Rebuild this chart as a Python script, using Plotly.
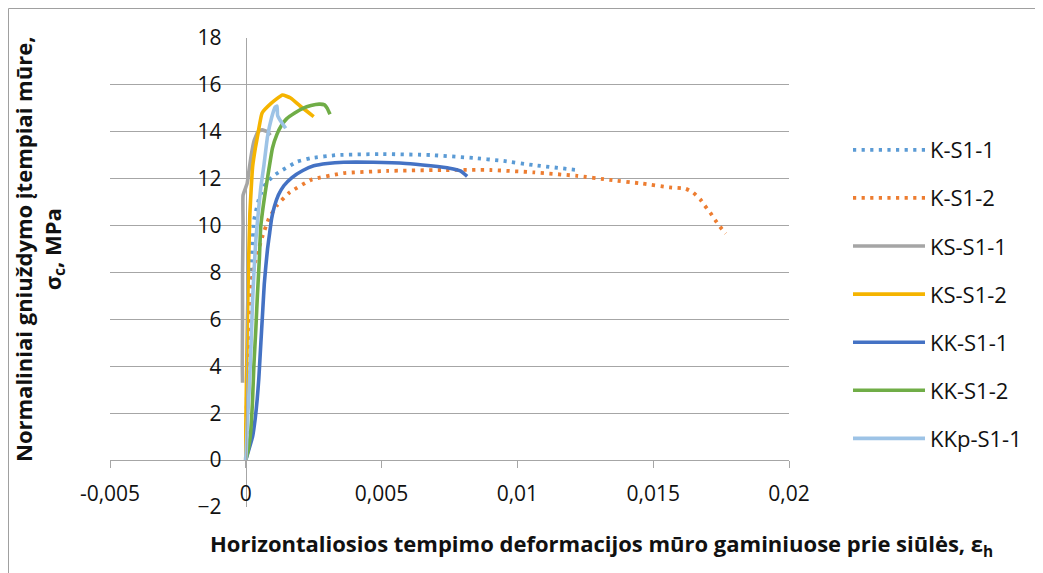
import plotly.graph_objects as go

# ---------------- data ----------------
names = ["K-S1-1", "K-S1-2", "KS-S1-1", "KS-S1-2", "KK-S1-1", "KK-S1-2", "KKp-S1-1"]
colors = ["#5B9BD5", "#ED7D31", "#A5A5A5", "#F5B400", "#4472C4", "#70AD47", "#9DC3E6"]
dashes = ["dot", "dot", "solid", "solid", "solid", "solid", "solid"]

k_s1_1_x = [0, 0.00005, 0.0001, 0.00015, 0.0002, 0.0003, 0.0005, 0.00074, 0.00105, 0.00135,
            0.0019, 0.0024, 0.00337, 0.00496, 0.0068, 0.0084, 0.0094, 0.0106, 0.0122]
k_s1_1_y = [0, 2.0, 4.0, 6.0, 8.0, 10.2, 11.2, 11.8, 12.15, 12.37,
            12.73, 12.88, 13.01, 13.05, 13.01, 12.88, 12.77, 12.58, 12.37]

k_s1_2_x = [0, 0.00003, 0.00006, 0.00012, 0.00018, 0.0003, 0.0006, 0.00085, 0.00116, 0.0016,
            0.0024, 0.0036, 0.0052, 0.0072, 0.009, 0.0106, 0.0122, 0.0134, 0.0146, 0.0156,
            0.0162, 0.01648, 0.01673, 0.0169, 0.0171, 0.01728, 0.01746, 0.01767]
k_s1_2_y = [0, 2.0, 4.4, 5.8, 7.0, 8.25, 9.5, 10.3, 10.88, 11.4,
            11.95, 12.24, 12.33, 12.37, 12.37, 12.27, 12.12, 11.95, 11.79, 11.63,
            11.57, 11.4, 11.12, 10.85, 10.55, 10.24, 9.95, 9.66]

ks_s1_1_x = [-0.00012, -0.00013, -0.00012, -0.00012, -0.0001, -0.0001, 0.00005, 0.0001,
             0.0002, 0.0003, 0.00045, 0.0006, 0.0008, 0.0009]
ks_s1_1_y = [3.3, 4.0, 6.0, 8.0, 10.0, 11.3, 11.8, 12.2,
             13.0, 13.6, 14.0, 14.08, 14.0, 13.85]

ks_s1_2_x = [0, 0, 0.00003, 0.00006, 0.0001, 0.00015, 0.0002, 0.00025, 0.00035, 0.00043,
             0.0006, 0.00092, 0.00135, 0.00165, 0.002, 0.0025]
ks_s1_2_y = [0, 1.4, 3.8, 6.0, 8.3, 10.5, 11.6, 12.5, 13.3, 13.8,
             14.8, 15.2, 15.57, 15.44, 15.1, 14.65]

kk_s1_1_x = [0, 0.0001, 0.00025, 0.00035, 0.00042, 0.00048, 0.00053, 0.00058, 0.00063, 0.00068,
             0.00074, 0.0008, 0.00088, 0.00095, 0.00105, 0.0012, 0.0014, 0.0017, 0.0021, 0.0025,
             0.003, 0.0036, 0.0047, 0.0059, 0.0068, 0.0075, 0.0079, 0.00815]
kk_s1_1_y = [0, 0.4, 1.0, 1.8, 2.6, 3.5, 4.5, 5.5, 6.5, 7.5,
             8.3, 9.0, 9.7, 10.3, 10.8, 11.3, 11.7, 12.05, 12.35, 12.55,
             12.65, 12.7, 12.7, 12.65, 12.55, 12.45, 12.33, 12.1]

kk_s1_2_x = [0, 0.0001, 0.00018, 0.00025, 0.0003, 0.00037, 0.00043, 0.0005, 0.00055, 0.00065,
             0.00074, 0.00085, 0.00098, 0.00115, 0.0013, 0.0015, 0.0018, 0.0021, 0.0024, 0.0027,
             0.0029, 0.003, 0.0031]
kk_s1_2_y = [0, 0.5, 1.2, 2.6, 4.1, 5.6, 7.1, 8.6, 9.95, 10.9,
             11.6, 12.4, 13.3, 13.9, 14.25, 14.55, 14.8, 15.0, 15.12, 15.18,
             15.15, 15.0, 14.75]

kkp_s1_1_x = [0, 0.00003, 0.00006, 0.00012, 0.00018, 0.00025, 0.0003, 0.00037, 0.00048, 0.00055,
              0.00067, 0.0008, 0.00095, 0.00108, 0.00115, 0.00117, 0.0013, 0.00147]
kkp_s1_1_y = [0, 0.8, 1.7, 2.9, 4.5, 6.8, 8.0, 9.4, 10.8, 11.6,
              12.6, 13.8, 14.6, 15.05, 15.1, 14.7, 14.43, 14.15]

series_x = [k_s1_1_x, k_s1_2_x, ks_s1_1_x, ks_s1_2_x, kk_s1_1_x, kk_s1_2_x, kkp_s1_1_x]
series_y = [k_s1_1_y, k_s1_2_y, ks_s1_1_y, ks_s1_2_y, kk_s1_1_y, kk_s1_2_y, kkp_s1_1_y]

x_tickvals = [-0.005, 0, 0.005, 0.01, 0.015, 0.02]
x_ticktext = ["-0,005", "0", "0,005", "0,01", "0,015", "0,02"]
y_tickvals = [-2, 0, 2, 4, 6, 8, 10, 12, 14, 16, 18]

x_title = "Horizontaliosios tempimo deformacijos mūro gaminiuose prie siūlės, ε<sub>h</sub>"
y_title = "Normaliniai gniuždymo įtempiai mūre,<br>σ<sub>c</sub>, MPa"

# ---------------- figure ----------------
W, H = 1043, 573
OFF = 8  # page offset of the figure inside the browser window
# plot area in page pixels: x 110..789, y 38..507
ML, MT = 110 - OFF, 38 - OFF
MR, MB = W - (789 - OFF), H - (507 - OFF)
PW, PH = W - ML - MR, H - MT - MB
FONT = "Open Sans"
GRID = "#a6a6a6"
TXT = "#111111"


def px_x(p):
    return (p - OFF - ML) / PW


def px_y(p):
    return (H - MB - (p - OFF)) / PH


fig = go.Figure()
for nm, col, dsh, xs, ys in zip(names, colors, dashes, series_x, series_y):
    fig.add_trace(go.Scatter(
        x=xs, y=ys, mode="lines", name=nm, legendgroup=nm,
        line=dict(color=col, width=3.6 if dsh == "solid" else 3.8,
                  dash="3.2px,5.4px" if dsh == "dot" else "solid", shape="spline", smoothing=0.4),
    ))

xr = [-0.005, 0.02]
yr = [-2, 18]
fig.update_layout(
    width=W, height=H,
    margin=dict(l=ML, r=MR, t=MT, b=MB),
    paper_bgcolor="white", plot_bgcolor="white",
    font=dict(family=FONT, size=21, color=TXT),
    showlegend=True,
    legend=dict(x=px_x(848), y=px_y(129), xanchor="left", yanchor="top",
                font=dict(family=FONT, size=22, color=TXT),
                itemwidth=72, tracegroupgap=16.5, bgcolor="rgba(0,0,0,0)"),
    xaxis=dict(range=xr, domain=[0, 1], anchor="free",
               position=(0 - yr[0]) / (yr[1] - yr[0]),
               showgrid=False, zeroline=False, showline=True, linecolor=GRID, linewidth=1.2,
               ticks="outside", ticklen=7, tickcolor=GRID, tickwidth=1.2,
               tickvals=x_tickvals, ticktext=x_ticktext, ticklabelstandoff=8,
               tickfont=dict(family=FONT, size=21, color=TXT)),
    yaxis=dict(range=yr, domain=[0, 1], anchor="free",
               position=(0 - xr[0]) / (xr[1] - xr[0]),
               showgrid=True, gridcolor=GRID, gridwidth=1.2, zeroline=False,
               showline=True, linecolor=GRID, linewidth=1.2,
               ticks="", tickvals=y_tickvals, ticklabelstandoff=20,
               tickfont=dict(family=FONT, size=21, color=TXT)),
    annotations=[
        dict(text="<b>" + x_title + "</b>", xref="paper", yref="paper",
             x=px_x(601), y=px_y(545), xanchor="center", yanchor="middle",
             showarrow=False, font=dict(family=FONT, size=22, color=TXT)),
        dict(text="<b>" + y_title + "</b>", xref="paper", yref="paper",
             x=px_x(39), y=px_y(250), xanchor="center", yanchor="middle", textangle=-90,
             showarrow=False, font=dict(family=FONT, size=22, color=TXT)),
    ],
    shapes=[dict(type="rect", xref="paper", yref="paper",
                 x0=px_x(8.5), x1=px_x(1070), y0=px_y(600), y1=px_y(8.5),
                 line=dict(color="#a0a0a0", width=1), layer="below")],
)

fig.write_html("out.html")
